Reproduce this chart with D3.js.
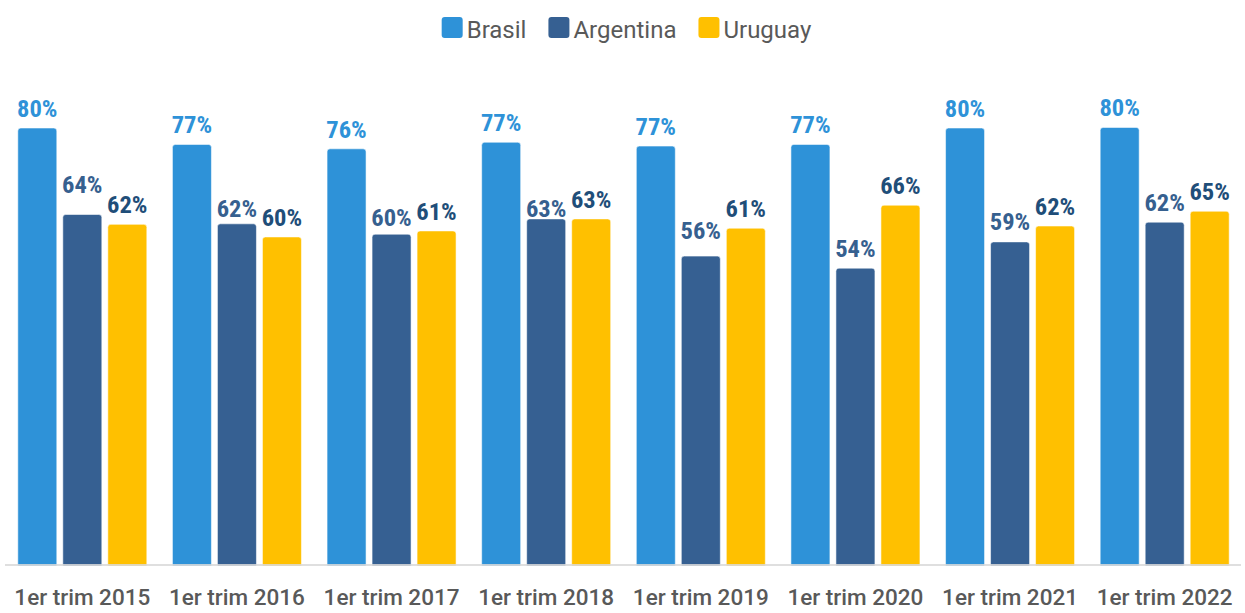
<!DOCTYPE html>
<html>
<head>
<meta charset="utf-8">
<script src="https://cdn.jsdelivr.net/npm/d3@7"></script>
<style>
  html, body { margin: 0; padding: 0; background: #ffffff; }
  svg { display: block; }
</style>
</head>
<body>
<div id="chart"></div>
<script>
// ---- data ----
const categories = ["1er trim 2015", "1er trim 2016", "1er trim 2017", "1er trim 2018",
                    "1er trim 2019", "1er trim 2020", "1er trim 2021", "1er trim 2022"];
const seriesNames = ["Brasil", "Argentina", "Uruguay"];
const brasil    = [80.0, 77.0, 76.2, 77.4, 76.7, 77.0, 80.0, 80.1];
const argentina = [64.2, 62.5, 60.6, 63.4, 56.6, 54.4, 59.2, 62.8];
const uruguay   = [62.4, 60.1, 61.2, 63.4, 61.7, 65.9, 62.1, 64.8];
const brasilLabels    = ["80%", "77%", "76%", "77%", "77%", "77%", "80%", "80%"];
const argentinaLabels = ["64%", "62%", "60%", "63%", "56%", "54%", "59%", "62%"];
const uruguayLabels   = ["62%", "60%", "61%", "63%", "61%", "66%", "62%", "65%"];

// ---- layout / style ----
const W = 1245, H = 613;
const barColors   = { Brasil: "#2e92d8", Argentina: "#366092", Uruguay: "#ffc000" };
const labelColors = { Brasil: "#2e92d8", Argentina: "#36608f", Uruguay: "#1f4e79" };
const labelGap = 11;
// manual vertical nudges of the Argentina data labels (px, positive = up)
const argLabelNudge = [11, -4, -3, -9, 6, 0, 1, 0];

const seriesValues = { Brasil: brasil, Argentina: argentina, Uruguay: uruguay };
const seriesLabels = { Brasil: brasilLabels, Argentina: argentinaLabels, Uruguay: uruguayLabels };

const svg = d3.select("#chart").append("svg").attr("width", W).attr("height", H);

const x0 = d3.scaleBand().domain(categories).range([5, 1242])
  .paddingInner(25.6 / 154.6).paddingOuter(12.8 / 154.6);
const x1 = d3.scaleBand().domain(seriesNames).range([0, x0.bandwidth()])
  .paddingInner(6 / 45).paddingOuter(0);
const y = d3.scaleLinear().domain([0, 80]).range([566, 128]);

const rows = [];
categories.forEach((c, i) => {
  seriesNames.forEach(s => {
    rows.push({ cat: c, i, s, v: seriesValues[s][i], label: seriesLabels[s][i] });
  });
});

function barPath(d) {
  const bx = x0(d.cat) + x1(d.s), bw = x1.bandwidth();
  const top = y(d.v), bottom = y(0), r = 3;
  return `M${bx},${bottom} L${bx},${top + r} Q${bx},${top} ${bx + r},${top} ` +
         `L${bx + bw - r},${top} Q${bx + bw},${top} ${bx + bw},${top + r} L${bx + bw},${bottom} Z`;
}

svg.append("g").selectAll("path").data(rows).join("path")
  .attr("d", barPath)
  .attr("fill", d => barColors[d.s])
  .attr("stroke", "rgba(255,255,255,0.55)")
  .attr("stroke-width", 1);

// baseline
svg.append("line")
  .attr("x1", 5).attr("x2", 1241)
  .attr("y1", 565).attr("y2", 565)
  .attr("stroke", "#d9d9d9").attr("stroke-opacity", 0.85).attr("stroke-width", 2);

// value labels
svg.append("g").selectAll("text").data(rows).join("text")
  .attr("x", d => x0(d.cat) + x1(d.s) + x1.bandwidth() / 2)
  .attr("y", d => y(d.v) - labelGap - (d.s === "Argentina" ? argLabelNudge[d.i] : 0))
  .attr("text-anchor", "middle")
  .attr("font-family", "'Liberation Sans Narrow', 'Roboto Condensed', 'DejaVu Sans Condensed', sans-serif")
  .attr("font-weight", "bold")
  .attr("font-size", 24.5)
  .attr("fill", d => labelColors[d.s])
  .text(d => d.label);

// x axis labels
const xAxis = d3.axisBottom(x0).tickSize(0).tickPadding(0);
const gx = svg.append("g").attr("transform", "translate(0,589)").call(xAxis);
gx.select(".domain").remove();
gx.selectAll("text")
  .attr("dy", "0.71em")
  .attr("y", 0)
  .attr("font-family", "Roboto, 'Liberation Sans', sans-serif")
  .attr("font-weight", 500)
  .attr("font-size", 22.5)
  .attr("fill", "#595959");

// legend
const legend = svg.append("g");
const items = legend.selectAll("g").data(seriesNames).join("g");
items.append("rect")
  .attr("width", 21).attr("height", 21).attr("rx", 3).attr("ry", 3)
  .attr("y", 17)
  .attr("fill", d => barColors[d]);
items.append("text")
  .attr("x", 25).attr("y", 37.5)
  .attr("font-family", "Roboto, 'Liberation Sans', sans-serif")
  .attr("font-size", 24)
  .attr("fill", "#595959")
  .text(d => d);
let cx = 0;
const offsets = [];
items.each(function () {
  offsets.push(cx);
  const tw = d3.select(this).select("text").node().getComputedTextLength();
  cx += 25 + tw + 22;
});
const total = cx - 22;
const startX = 626.5 - total / 2;
items.attr("transform", (d, i) => `translate(${startX + offsets[i]},0)`);
</script>
</body>
</html>
